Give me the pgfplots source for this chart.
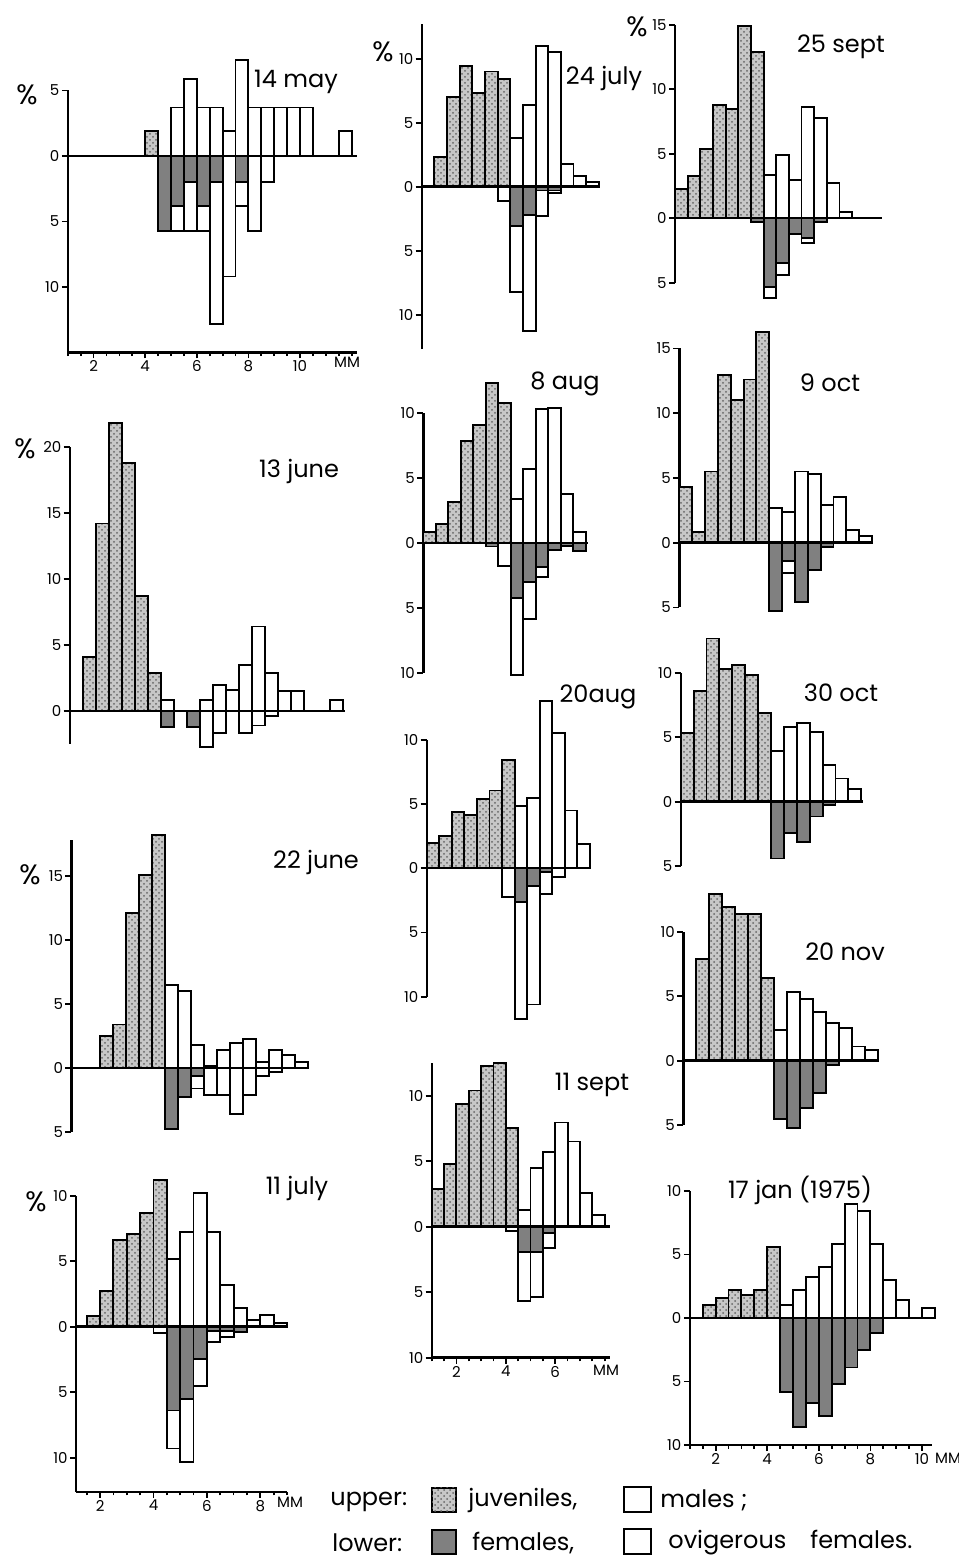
\documentclass[border=0pt]{standalone}
\usepackage{pgfplots}
\pgfplotsset{compat=1.18}
\usetikzlibrary{patterns}
\usepackage{fontspec}
\setmainfont{Poppins}

\pgfplotsset{
  panel/.style={
    clip=false, enlargelimits=false,
    axis y line*=left, ytick pos=left,
    axis line style={line width=1.2pt, black},
    tick align=outside, major tick length=3pt, minor tick length=1.8pt,
    every tick/.style={line width=0.9pt, black},
    yticklabel={\pgfmathparse{abs(\tick)}\pgfmathprintnumber{\pgfmathresult}},
    tick label style={font=\fontsize{7.5}{8}\selectfont, inner sep=1pt},
    /pgf/number format/assume math mode=true,
    anchor=south west,
  },
  noxaxis/.style={axis x line=none},
  xaxis/.style={axis x line*=bottom, xtick pos=bottom, minor xtick={1,1.5,...,12}},
  juv/.style={ybar, bar width=0.5, bar shift=0pt, draw=black, line width=0.95pt, fill=black!22, postaction={pattern=crosshatch dots, pattern color=black!60}},
  male/.style={ybar, bar width=0.5, bar shift=0pt, draw=black, line width=0.95pt, fill=white},
  fem/.style={ybar, bar width=0.5, bar shift=0pt, draw=black, line width=0.95pt, fill=black!50},
}
\newcommand{\zl}[2]{\draw[line width=1.2pt] (axis cs:#1,0) -- (axis cs:#2,0);}

\begin{document}
\begin{tikzpicture}
\path[use as bounding box] (0,0) rectangle (479pt,781pt);

% A 14 may
\begin{axis}[panel, xaxis, x=12.9pt, y=6.55pt, xmin=1, xmax=12.2, ymin=-15, ymax=5,
  at={(33.9pt,604.75pt)}, ytick={-10,-5,0,5}, xtick={2,4,6,8,10}]
\addplot[male] coordinates {(5.25,3.7)(5.75,5.85)(6.25,3.7)(6.75,3.7)(7.25,1.9)(7.75,7.35)(8.25,3.7)(8.75,3.7)(9.25,3.7)(9.75,3.7)(10.25,3.7)(11.75,1.9)};
\addplot[juv] coordinates {(4.25,1.9)};
\addplot[male] coordinates {(4.75,-5.7)(5.25,-5.7)(5.75,-5.7)(6.25,-5.7)(6.75,-12.8)(7.25,-9.2)(7.75,-3.8)(8.25,-5.7)(8.75,-2.0)};
\addplot[fem] coordinates {(4.75,-5.7)(5.25,-3.8)(5.75,-2.0)(6.25,-3.8)(6.75,-2.0)(7.75,-2.0)};
\zl{1}{12.2}
\end{axis}

% B 13 june
\begin{axis}[panel, noxaxis, x=13pt, y=6.6pt, xmin=1, xmax=11.6, ymin=-2.5, ymax=20,
  at={(34.85pt,409pt)}, ytick={0,5,10,15,20}]
\addplot[male] coordinates {(4.75,0.85)(6.25,0.8)(6.75,2.0)(7.25,1.6)(7.75,3.5)(8.25,6.4)(8.75,2.9)(9.25,1.5)(9.75,1.5)(11.25,0.8)};
\addplot[juv] coordinates {(1.75,4.1)(2.25,14.2)(2.75,21.8)(3.25,18.8)(3.75,8.7)(4.25,2.85)};
\addplot[male] coordinates {(4.75,-1.2)(5.75,-1.2)(6.25,-2.7)(6.75,-1.7)(7.75,-1.7)(8.25,-1.1)(8.75,-0.4)};
\addplot[fem] coordinates {(4.75,-1.2)(5.75,-1.2)};
\zl{1}{11.6}
\end{axis}

% C 22 june
\begin{axis}[panel, noxaxis, x=13pt, y=6.4pt, xmin=0.9, xmax=10.0, ymin=-5, ymax=17.8,
  at={(35.7pt,215pt)}, ytick={-5,0,5,10,15}]
\addplot[male] coordinates {(4.75,6.5)(5.25,6.0)(5.75,1.8)(6.25,0.15)(6.75,1.4)(7.25,1.95)(7.75,2.3)(8.25,0.5)(8.75,1.4)(9.25,1.0)(9.75,0.5)};
\addplot[juv] coordinates {(2.25,2.5)(2.75,3.4)(3.25,12.1)(3.75,15.1)(4.25,18.2)};
\addplot[male] coordinates {(4.75,-4.8)(5.25,-2.3)(5.75,-1.6)(6.25,-2.1)(6.75,-2.1)(7.25,-3.6)(7.75,-2.1)(8.25,-0.65)(8.75,-0.3)};
\addplot[fem] coordinates {(4.75,-4.8)(5.25,-2.3)(5.75,-0.6)};
\zl{0.9}{10.0}
\end{axis}

% D 11 july
\begin{axis}[panel, xaxis, x=13.35pt, y=6.55pt, xmin=1.1, xmax=9.0, ymin=-12.6, ymax=10,
  at={(38.03pt,35.12pt)}, ytick={-10,-5,0,5,10}, xtick={2,4,6,8}]
\addplot[male] coordinates {(4.75,5.2)(5.25,7.2)(5.75,10.2)(6.25,7.2)(6.75,3.2)(7.25,1.4)(7.75,0.5)(8.25,0.9)(8.75,0.3)};
\addplot[juv] coordinates {(1.75,0.8)(2.25,2.7)(2.75,6.6)(3.25,7.1)(3.75,8.7)(4.25,11.2)};
\addplot[male] coordinates {(4.25,-0.5)(4.75,-9.3)(5.25,-10.3)(5.75,-4.5)(6.25,-1.2)(6.75,-0.8)(7.25,-0.4)};
\addplot[fem] coordinates {(4.75,-6.4)(5.25,-5.5)(5.75,-2.5)(6.25,-0.3)(6.75,-0.3)(7.25,-0.4)};
\zl{1.1}{9.0}
\end{axis}

% E 24 july
\begin{axis}[panel, noxaxis, x=12.65pt, y=6.4pt, xmin=1, xmax=8.0, ymin=-12.7, ymax=12.7,
  at={(210.85pt,606.37pt)}, ytick={-10,-5,0,5,10}]
\addplot[male] coordinates {(4.75,3.8)(5.25,6.4)(5.75,11.0)(6.25,10.5)(6.75,1.8)(7.25,0.8)(7.75,0.35)};
\addplot[juv] coordinates {(1.75,2.3)(2.25,7.0)(2.75,9.4)(3.25,7.3)(3.75,9.0)(4.25,8.4)};
\addplot[male] coordinates {(4.25,-1.1)(4.75,-8.2)(5.25,-11.3)(5.75,-2.3)(6.25,-0.5)};
\addplot[fem] coordinates {(4.75,-3.1)(5.25,-2.2)(5.75,-0.3)(6.25,-0.3)};
\zl{1}{8.0}
\end{axis}

% F 25 sept
\begin{axis}[panel, noxaxis, x=12.65pt, y=6.45pt, xmin=1, xmax=9.2, ymin=-5, ymax=15,
  at={(337.5pt,639.6pt)}, ytick={-5,0,5,10,15}]
\addplot[male] coordinates {(4.75,3.35)(5.25,4.9)(5.75,3.0)(6.25,8.6)(6.75,7.8)(7.25,2.7)(7.75,0.5)};
\addplot[juv] coordinates {(1.25,2.25)(1.75,3.3)(2.25,5.4)(2.75,8.8)(3.25,8.45)(3.75,14.9)(4.25,12.9)};
\addplot[male] coordinates {(4.25,-0.3)(4.75,-6.2)(5.25,-4.4)(5.75,-1.2)(6.25,-1.9)(6.75,-0.3)};
\addplot[fem] coordinates {(4.25,-0.3)(4.75,-5.3)(5.25,-3.5)(5.75,-1.2)(6.25,-1.55)(6.75,-0.3)};
\zl{1}{9.2}
\end{axis}

% G 8 aug
\begin{axis}[panel, noxaxis, x=12.5pt, y=6.5pt, xmin=1, xmax=7.6, ymin=-10, ymax=10,
  at={(211.65pt,444.35pt)}, ytick={-10,-5,0,5,10}]
\addplot[male] coordinates {(4.75,3.4)(5.25,5.7)(5.75,10.3)(6.25,10.4)(6.75,3.8)(7.25,0.9)};
\addplot[juv] coordinates {(1.25,0.9)(1.75,1.5)(2.25,3.2)(2.75,7.9)(3.25,9.1)(3.75,12.3)(4.25,10.8)};
\addplot[male] coordinates {(3.75,-0.25)(4.25,-1.75)(4.75,-10.1)(5.25,-5.8)(5.75,-2.6)(6.25,-0.5)(6.75,-0.2)(7.25,-0.6)};
\addplot[fem] coordinates {(3.75,-0.25)(4.75,-4.2)(5.25,-2.95)(5.75,-1.8)(6.25,-0.5)(6.75,-0.2)(7.25,-0.6)};
\zl{1}{7.6}
\end{axis}

% H 20 aug
\begin{axis}[panel, noxaxis, x=12.55pt, y=6.425pt, xmin=1, xmax=7.55, ymin=-10, ymax=10,
  at={(213.35pt,282.6pt)}, ytick={-10,-5,0,5,10}]
\addplot[male] coordinates {(4.75,4.85)(5.25,5.45)(5.75,13.0)(6.25,10.5)(6.75,4.5)(7.25,1.9)};
\addplot[juv] coordinates {(1.25,2.0)(1.75,2.5)(2.25,4.4)(2.75,4.15)(3.25,5.4)(3.75,6.05)(4.25,8.45)};
\addplot[male] coordinates {(4.25,-2.25)(4.75,-11.7)(5.25,-10.6)(5.75,-2.0)(6.25,-0.65)};
\addplot[fem] coordinates {(4.75,-2.6)(5.25,-1.4)(5.75,-0.3)};
\zl{1}{7.55}
\end{axis}

% I 11 sept
\begin{axis}[panel, xaxis, x=12.35pt, y=6.55pt, xmin=1, xmax=8.2, ymin=-10, ymax=12.5,
  at={(215.85pt,102.15pt)}, ytick={-10,-5,0,5,10}, xtick={2,4,6}]
\addplot[male] coordinates {(4.75,1.3)(5.25,4.45)(5.75,5.7)(6.25,7.95)(6.75,6.5)(7.25,2.6)(7.75,0.9)};
\addplot[juv] coordinates {(1.25,2.85)(1.75,4.8)(2.25,9.35)(2.75,10.4)(3.25,12.3)(3.75,12.5)(4.25,7.5)};
\addplot[male] coordinates {(4.25,-0.3)(4.75,-5.65)(5.25,-5.35)(5.75,-1.65)};
\addplot[fem] coordinates {(4.75,-1.9)(5.25,-1.9)(5.75,-0.5)};
\zl{1}{8.2}
\end{axis}

% J 9 oct
\begin{axis}[panel, noxaxis, x=12.85pt, y=6.475pt, xmin=1, xmax=8.55, ymin=-5, ymax=15,
  at={(339.65pt,477.275pt)}, ytick={-5,0,5,10,15}]
\addplot[male] coordinates {(4.75,2.65)(5.25,2.4)(5.75,5.5)(6.25,5.3)(6.75,2.9)(7.25,3.5)(7.75,1.0)(8.25,0.5)};
\addplot[juv] coordinates {(1.25,4.3)(1.75,0.85)(2.25,5.5)(2.75,12.95)(3.25,11.0)(3.75,12.6)(4.25,16.3)};
\addplot[male] coordinates {(4.75,-5.3)(5.25,-2.35)(5.75,-4.55)(6.25,-2.1)(6.75,-0.3)};
\addplot[fem] coordinates {(4.75,-5.3)(5.25,-1.4)(5.75,-4.55)(6.25,-2.1)(6.75,-0.3)};
\zl{1}{8.55}
\end{axis}

% K 30 oct
\begin{axis}[panel, noxaxis, x=12.9pt, y=6.45pt, xmin=1, xmax=8.05, ymin=-5, ymax=10,
  at={(340.35pt,347.9pt)}, ytick={-5,0,5,10}]
\addplot[male] coordinates {(4.75,3.9)(5.25,5.8)(5.75,6.1)(6.25,5.4)(6.75,2.85)(7.25,1.8)(7.75,0.95)};
\addplot[juv] coordinates {(1.25,5.35)(1.75,8.6)(2.25,12.65)(2.75,10.3)(3.25,10.6)(3.75,9.8)(4.25,6.9)};
\addplot[fem] coordinates {(4.75,-4.4)(5.25,-2.45)(5.75,-3.1)(6.25,-1.15)(6.75,-0.25)};
\zl{1}{8.05}
\end{axis}

% L 20 nov
\begin{axis}[panel, noxaxis, x=13pt, y=6.45pt, xmin=1, xmax=8.5, ymin=-5, ymax=10,
  at={(341.65pt,218.4pt)}, ytick={-5,0,5,10}]
\addplot[male] coordinates {(4.75,2.4)(5.25,5.35)(5.75,4.75)(6.25,3.8)(6.75,2.9)(7.25,2.5)(7.75,1.1)(8.25,0.8)};
\addplot[juv] coordinates {(1.75,7.9)(2.25,12.9)(2.75,11.9)(3.25,11.4)(3.75,11.4)(4.25,6.4)};
\addplot[fem] coordinates {(4.75,-4.5)(5.25,-5.2)(5.75,-3.7)(6.25,-2.5)(6.75,-0.35)};
\zl{1}{8.5}
\end{axis}

% M 17 jan (1975)
\begin{axis}[panel, xaxis, x=12.9pt, y=6.35pt, xmin=1, xmax=10.4, ymin=-10, ymax=10,
  at={(344.9pt,58.5pt)}, ytick={-10,-5,0,5,10}, xtick={2,4,6,8,10}]
\addplot[male] coordinates {(4.75,1.0)(5.25,2.2)(5.75,3.2)(6.25,4.0)(6.75,5.8)(7.25,9.0)(7.75,8.4)(8.25,5.8)(8.75,3.0)(9.25,1.4)(10.25,0.8)};
\addplot[juv] coordinates {(1.75,1.0)(2.25,1.6)(2.75,2.2)(3.25,1.8)(3.75,2.2)(4.25,5.6)};
\addplot[fem] coordinates {(4.75,-5.8)(5.25,-8.6)(5.75,-6.7)(6.25,-7.7)(6.75,-5.2)(7.25,-3.9)(7.75,-2.5)(8.25,-1.2)};
\zl{1}{10.4}
\end{axis}

% annotations in pixel coordinates
\begin{scope}[x=0.5pt,y=-0.5pt,yshift=781pt]
\tikzset{date/.style={font=\fontsize{12}{14}\selectfont, inner sep=0pt},
         pct/.style={font=\fontsize{14}{16}\selectfont, inner sep=0pt},
         mm/.style={font=\fontsize{7.5}{8}\selectfont, inner sep=0pt}}
\node[date] at (296,82) {14 may};
\node[date] at (299,472) {13 june};
\node[date] at (316,862) {22 june};
\node[date] at (297,1188) {11 july};
\node[date] at (604,79) {24 july};
\node[date] at (841,47) {25 sept};
\node[date] at (565,384) {8 aug};
\node[date] at (598,697) {20aug};
\node[date] at (592,1085) {11 sept};
\node[date] at (830,383) {9 oct};
\node[date] at (841,693) {30 oct};
\node[date] at (845,952) {20 nov};
\node[date] at (800,1190) {17 jan (1975)};
\node[pct] at (27,95) {\%};
\node[pct] at (25,449) {\%};
\node[pct] at (30,875) {\%};
\node[pct] at (36,1202) {\%};
\node[pct] at (383,52) {\%};
\node[pct] at (637,27) {\%};
\node[mm] at (347,362) {MM};
\node[mm] at (290,1502) {MM};
\node[mm] at (606,1370) {MM};
\node[mm] at (948,1458) {MM};
% legend
\tikzset{leg/.style={font=\fontsize{12}{14}\selectfont, anchor=west, inner sep=0pt}}
\node[leg] at (330,1502) {upper:};
\draw[line width=0.95pt, fill=black!22, postaction={pattern=crosshatch dots, pattern color=black!60}] (432,1488) rectangle (456,1512);
\node[leg] at (468,1500) {juveniles,};
\draw[line width=0.95pt, fill=white] (624,1487) rectangle (651,1512);
\node[leg] at (660,1500) {males ;};
\node[leg] at (332,1543) {lower:};
\draw[line width=0.95pt, fill=black!50] (432,1530) rectangle (456,1554);
\node[leg] at (472,1543) {females,};
\draw[line width=0.95pt, fill=white] (624,1529) rectangle (651,1554);
\node[leg] at (668,1543) {ovigerous\hspace{12pt}females.};
\end{scope}
\end{tikzpicture}
\end{document}
